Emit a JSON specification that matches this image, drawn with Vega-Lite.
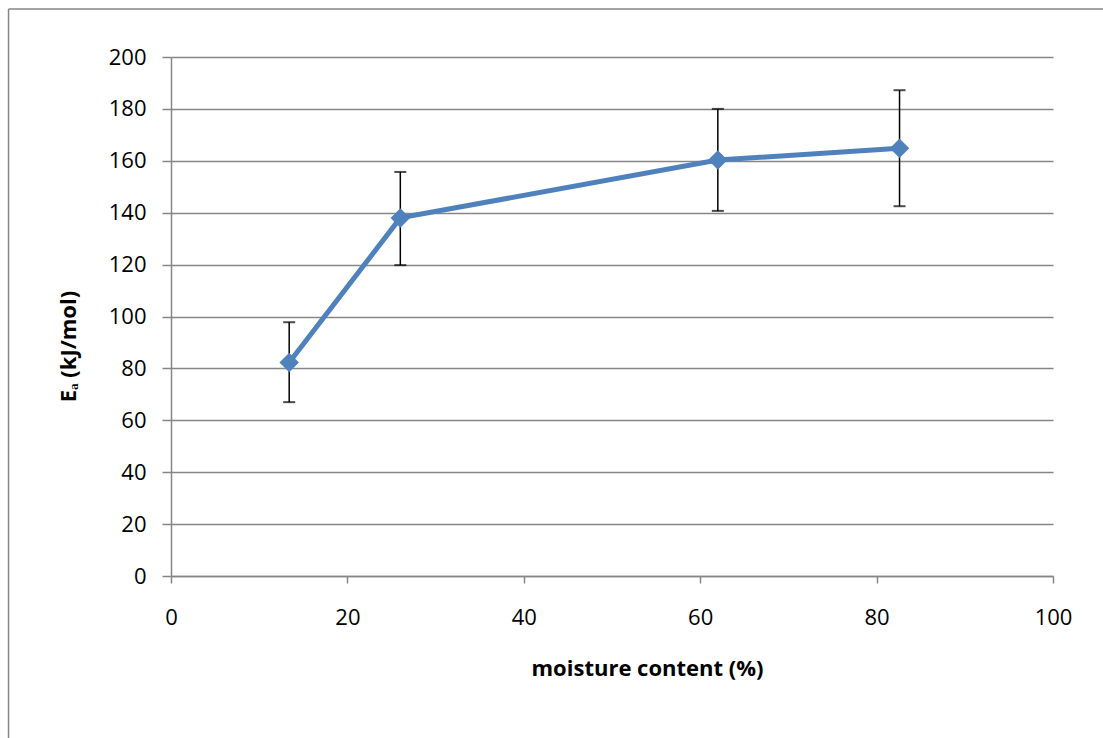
{
  "$schema": "https://vega.github.io/schema/vega-lite/v6.json",
  "width": 882,
  "height": 519,
  "autosize": "none",
  "padding": {"left": 171, "top": 57, "right": 50, "bottom": 162},
  "background": "white",
  "config": {
    "view": {"stroke": null},
    "font": "Open Sans",
    "axis": {
      "labelFont": "Open Sans",
      "titleFont": "Open Sans",
      "labelFontSize": 22,
      "titleFontSize": 22,
      "labelColor": "#000000",
      "titleColor": "#000000",
      "domainColor": "#868686",
      "tickColor": "#868686",
      "gridColor": "#868686",
      "domainWidth": 1.5,
      "tickWidth": 1.5,
      "gridWidth": 1.5,
      "labelFlush": false
    }
  },
  "data": {
    "values": [
      {"moisture": 13.4, "Ea": 82.3, "lo": 67.0, "hi": 97.8},
      {"moisture": 26.0, "Ea": 138.0, "lo": 119.8, "hi": 155.7},
      {"moisture": 62.0, "Ea": 160.3, "lo": 140.7, "hi": 180.0},
      {"moisture": 82.6, "Ea": 164.8, "lo": 142.5, "hi": 187.2}
    ]
  },
  "encoding": {
    "x": {
      "field": "moisture",
      "type": "quantitative",
      "scale": {"domain": [0, 100], "nice": false},
      "axis": {
        "title": "moisture content (%)",
        "titleFontWeight": "bold",
        "titlePadding": 30,
        "titleX": 476,
        "values": [0, 20, 40, 60, 80, 100],
        "grid": false,
        "labelPadding": 24,
        "tickSize": 7
      }
    }
  },
  "layer": [
    {
      "mark": {"type": "rule", "color": "#000000", "strokeWidth": 1.5},
      "encoding": {
        "y": {"field": "lo", "type": "quantitative", "scale": {"domain": [0, 200], "nice": false}},
        "y2": {"field": "hi"}
      }
    },
    {
      "mark": {"type": "tick", "orient": "horizontal", "color": "#000000", "size": 12, "thickness": 2},
      "encoding": {"y": {"field": "hi", "type": "quantitative"}}
    },
    {
      "mark": {"type": "tick", "orient": "horizontal", "color": "#000000", "size": 12, "thickness": 2},
      "encoding": {"y": {"field": "lo", "type": "quantitative"}}
    },
    {
      "mark": {"type": "line", "color": "#4F81BD", "strokeWidth": 5},
      "encoding": {
        "y": {
          "field": "Ea",
          "type": "quantitative",
          "scale": {"domain": [0, 200], "nice": false},
          "axis": {
            "title": "Eₐ (kJ/mol)",
            "titleFontWeight": "bold",
            "titlePadding": 28,
            "titleY": 289,
            "values": [0, 20, 40, 60, 80, 100, 120, 140, 160, 180, 200],
            "grid": true,
            "labelPadding": 16,
            "tickSize": 9
          }
        }
      }
    },
    {
      "mark": {"type": "point", "shape": "diamond", "filled": true, "color": "#4F81BD", "size": 380, "opacity": 1},
      "encoding": {"y": {"field": "Ea", "type": "quantitative"}}
    },
    {
      "data": {"values": [{"x": -18.42, "y": 218.5, "y2": -70}]},
      "mark": {"type": "rule", "color": "#868686", "strokeWidth": 1.5},
      "encoding": {
        "x": {"field": "x", "type": "quantitative"},
        "y": {"field": "y", "type": "quantitative"},
        "y2": {"field": "y2"}
      }
    },
    {
      "data": {"values": [{"x": -18.42, "x2": 130, "y": 218.5}]},
      "mark": {"type": "rule", "color": "#868686", "strokeWidth": 1.5},
      "encoding": {
        "x": {"field": "x", "type": "quantitative"},
        "x2": {"field": "x2"},
        "y": {"field": "y", "type": "quantitative"}
      }
    }
  ]
}
